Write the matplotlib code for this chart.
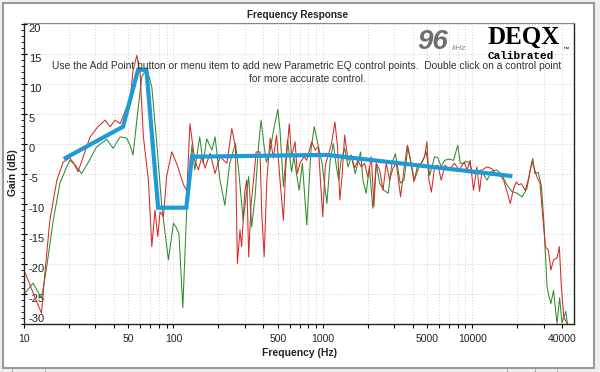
import matplotlib
matplotlib.use('Agg')
import matplotlib.pyplot as plt
import numpy as np
from matplotlib.patches import Rectangle
from matplotlib.ticker import LogLocator, NullFormatter, FixedLocator, MultipleLocator

plt.rcParams['font.family'] = ['Liberation Sans', 'DejaVu Sans']

red_freq = [10.2, 11.5, 13.1, 13.8, 14.9, 16.6, 18.3, 20.3, 21.5, 23.0, 25.0, 27.7, 31.0, 34.9, 37.7,
            40.7, 44.0, 48.7, 51.3, 53.7, 56.9, 59.8, 63.0, 68.0, 71.7, 75.3, 78.6, 81.4, 85.8, 90.0,
            97.5, 105, 117, 123, 129, 139, 147, 155, 163, 176, 190, 205, 228, 246, 260, 268, 279, 286,
            301, 310, 319, 330, 344, 358, 380, 390, 405, 422, 444, 467, 490, 517, 545, 567, 596, 618,
            652, 675, 703, 749, 781, 842, 889, 933, 999, 1040, 1144, 1205, 1254, 1300, 1345, 1400,
            1474, 1552, 1632, 1718, 1809, 1904, 2005, 2111, 2198, 2280, 2400, 2527, 2660, 2800, 2949,
            3104, 3315, 3490, 3675, 3868, 4073, 4288, 4560, 4800, 4975, 5130, 5330, 5600, 5890, 6200,
            6590, 7020, 7590, 8190, 8830, 9230, 9680, 10200, 10750, 11200, 11640, 12570, 13550, 14280,
            15420, 16220, 17080, 17980, 18930, 19740, 20450, 21320, 22660, 23840, 25090, 25990, 27070,
            28450, 29650, 30890, 32370, 33600, 35030, 36920, 38300, 39500, 41000, 43200]
red_gain = [-21.5, -24.8, -28.2, -21.5, -12.7, -6.0, -3.0, -2.3, -3.2, -4.6, -2.0, 1.2, 2.8, 4.0, 2.9,
            4.0, 3.4, 6.2, 7.3, 12.3, 14.8, 12.0, 1.2, -6.0, -17.1, -11.0, -15.4, -11.3, -12.1, -5.4,
            -1.3, -3.2, -6.8, -7.8, 3.4, -2.7, -4.3, -2.1, -4.0, -1.5, -4.9, -2.1, -3.2, 2.6, -0.4, -19.9, -14.3, -17.1,
            -7.7, -6.0, -18.8, -10.4, -6.0, -1.3, -1.3, -11.5, -18.8, -6.0, 1.0, -2.3, 1.5, -6.0, -12.7, -3.2, 3.4, -2.1,
            0.4, -4.9, -3.2, -2.1, -2.7, 0.4, -1.0, -0.4, -12.1, -3.5, 0.1, 3.7, -0.4, -9.3, -5.4, 1.5,
            -2.7, -1.8, -4.0, -2.7, -3.8, -3.2, -5.5, -2.1, -10.4, -3.2, -4.3, -7.7, -3.2, -6.0, -4.0,
            -3.2, -8.8, -4.3, -0.2, -2.7, -6.3, -3.8, -3.2, -2.1, 0.4, -6.0, -8.0, -3.8, -3.5, -6.0,
            -3.5, -4.3, -3.2, -4.3, -3.0, -4.3, -2.7, -7.7, -3.8, -7.9, -4.3, -3.8, -4.1, -4.9,
            -5.2, -6.0, -7.9, -9.9, -7.4, -6.3, -6.8, -6.6, -7.7, -5.7, -2.9, -4.0, -5.4,
            -6.6, -12.1, -17.1, -17.7, -21.0, -19.3, -19.0, -17.1, -23.8, -28.8, -30.0]

green_freq = [10.2, 11.5, 13.1, 14.2, 15.7, 17.4, 19.3, 20.3, 22.0, 24.3, 27.0, 30.5, 35.8, 39.5, 44.0,
              48.7, 51.5, 53.7, 56.9, 61.4, 66.4, 71.7, 77.4, 83.6, 92.6, 100, 104, 109, 115.6, 123,
              133, 139, 150, 158, 167, 181, 190, 205, 221, 238, 260, 272, 293, 319, 334, 352, 371, 386,
              405, 419, 440, 473, 500, 517, 545, 580, 618, 640, 694, 730, 781, 833, 876, 915, 988, 1065,
              1120, 1176, 1233, 1278, 1326, 1400, 1474, 1552, 1650, 1790, 1855, 1950, 2050, 2160, 2280,
              2400, 2565, 2740, 2900, 3060, 3300, 3500, 3710, 3900, 4100, 4400, 4680, 4920, 5200, 5600,
              5890, 6200, 6540, 7000, 7500, 8000, 8320, 8830, 9000, 9530, 10100, 10500, 11370, 12570,
              13550, 14520, 15670, 17080, 18440, 19940, 21540, 23250, 24500, 25450, 26270, 27660, 29090,
              30210, 31670, 32370, 33600, 35030, 36920, 38490, 39870, 42290, 43400]
green_gain = [-24.8, -23.2, -25.7, -20.4, -12.7, -6.5, -3.8, -2.7, -3.5, -4.9, -3.0, -0.5, 0.8, -0.7, 1.2,
              1.0, -0.3, -1.8, 4.0, 11.2, 12.6, 9.5, 0.1, -10.4, -19.3, -13.2, -13.8, -15.0, -27.3, -10.4,
              -0.2, -4.3, 1.2, -3.2, 0.9, -1.0, 1.2, -6.0, -10.2, -3.2, 0.1, -3.8, -12.7, -5.4, -13.8, -8.8, -0.4, 4.0,
              -0.4, -3.0, -1.5, 2.9, 5.8, 2.3, -7.1, 0.7, -4.6, -2.1, -7.7, -3.2, -13.5, -1.0, 2.9, 0.7, -3.2, -9.9,
              -2.7, 0.1, -3.8, -6.0, -2.7, -0.7, -3.8, -2.1, -4.9, -1.3, -6.0, -8.2, -3.8, -10.7, -3.2,
              -6.5, -7.7, -8.2, -3.2, -1.6, -6.5, -6.0, -0.4, -3.2, -6.0, -3.8, -2.7, -1.3, -5.2, -2.1,
              -2.3, -3.8, -2.7, -2.5, -2.7, -0.2, -3.2, -3.2, -2.9, -3.0, -4.9, -4.9, -4.3, -6.0,
              -4.5, -4.3, -5.0, -6.8, -7.9, -8.2, -8.8, -7.4, -4.3, -2.4, -4.9, -4.7, -7.1,
              -13.2, -23.8, -25.0, -26.6, -24.4, -29.9, -25.6, -29.8, -27.9, -30.0]

# parametric EQ target (control points)
eq_freq = [19, 46, 58, 66, 79, 122, 133, 1060, 18000]
eq_gain = [-2.3, 2.9, 12.4, 12.4, -10.6, -10.6, -2.1, -1.8, -5.3]

xtick_vals = [10, 50, 100, 500, 1000, 5000, 10000, 40000]
ytick_vals = [-30, -25, -20, -15, -10, -5, 0, 5, 10, 15, 20]

W, H = 600, 372


def fx(x):
    return x / W


def fy(y):
    return 1 - y / H


fig = plt.figure(figsize=(6, 3.72), dpi=100)
fig.patch.set_facecolor('#efefef')

# window frame
fig.patches.append(Rectangle((fx(2.5), fy(367.5)), fx(591), fy(3) - fy(367.5), transform=fig.transFigure,
                             facecolor='white', edgecolor='#9a9a9a', linewidth=1.5, zorder=-10))
for sx in [12, 45, 507, 535, 557]:
    fig.add_artist(plt.Line2D([fx(sx), fx(sx)], [0, fy(369)], transform=fig.transFigure,
                              color='#b0b0b0', lw=0.8, zorder=-5))

ax = fig.add_axes([fx(24), fy(324), fx(574) - fx(24), fy(23) - fy(324)])
ax.set_zorder(1)
ax.set_xscale('log')
ax.set_xlim(10, 48000)
ax.set_ylim(-30, 20.2)

ax.plot(green_freq, green_gain, color='#2e8b2e', lw=0.75, zorder=3)
ax.plot(red_freq, red_gain, color='#d42a2a', lw=0.75, zorder=4)
ax.plot(eq_freq, eq_gain, color='#1e9bd7', lw=3, solid_joinstyle='miter', zorder=5)

ax.xaxis.set_major_locator(FixedLocator(xtick_vals))
ax.xaxis.set_minor_locator(LogLocator(base=10, subs=np.arange(1, 10)))
ax.xaxis.set_minor_formatter(NullFormatter())
ax.set_xticklabels([str(v) for v in xtick_vals])
ax.set_yticks(ytick_vals)
ax.set_yticklabels([str(v) for v in ytick_vals])
ax.yaxis.set_minor_locator(MultipleLocator(1))

ax.tick_params(axis='x', which='both', direction='out', length=3, width=0.8, labelsize=7.5,
               labelcolor='#222222', pad=4)
ax.tick_params(axis='y', which='major', direction='inout', length=5, width=0.8, labelsize=8,
               labelcolor='#222222', pad=-6)
ax.tick_params(axis='y', which='minor', direction='out', length=2, width=0.6)
for lbl in ax.get_yticklabels():
    lbl.set_horizontalalignment('left')
    lbl.set_verticalalignment('top')
ax.get_yticklabels()[0].set_verticalalignment('bottom')

ax.grid(axis='x', which='both', color='#d0d0d0', linestyle=(0, (1, 2)), lw=0.7)
ax.grid(axis='y', which='major', color='#d0d0d0', linestyle=(0, (1, 2)), lw=0.7)
ax.set_axisbelow(True)

for side in ['left', 'bottom', 'right']:
    ax.spines[side].set_color('#222222')
    ax.spines[side].set_linewidth(1)
ax.spines['top'].set_color('#888888')

fig.text(fx(298), fy(15), 'Frequency Response', ha='center', va='center', fontsize=7.2,
         fontweight='bold', color='#222222')
fig.text(fx(299), fy(353), 'Frequency (Hz)', ha='center', va='center', fontsize=7.5,
         fontweight='bold', color='#222222')
fig.text(fx(13), fy(173), 'Gain (dB)', ha='center', va='center', rotation=90, fontsize=7.5,
         fontweight='bold', color='#222222')

fig.text(fx(307), fy(66), 'Use the Add Point button or menu item to add new Parametric EQ control points.  '
         'Double click on a control point', ha='center', va='center', fontsize=7.4, color='#333333',
         zorder=6)
fig.text(fx(307), fy(79), 'for more accurate control.', ha='center', va='center', fontsize=7.4,
         color='#333333', zorder=6)

fig.text(fx(417), fy(42), '96', ha='left', va='center', fontsize=20, fontweight='bold',
         fontstyle='italic', color='#6e6e6e', zorder=6)
fig.text(fx(452), fy(49), 'kHz', ha='left', va='center', fontsize=6, fontstyle='italic',
         color='#8a8a8a', zorder=6)
fig.text(fx(524), fy(37), 'DEQX', ha='center', va='center', fontsize=18, fontweight='bold',
         family='Liberation Serif', color='black', zorder=6)
fig.text(fx(521), fy(56), 'Calibrated', ha='center', va='center', fontsize=8, fontweight='bold',
         family='Liberation Mono', color='black', zorder=6)
fig.text(fx(562), fy(49), '\u2122', ha='left', va='center', fontsize=4.5, color='black', zorder=6)

fig.savefig('out.png', dpi=100)
